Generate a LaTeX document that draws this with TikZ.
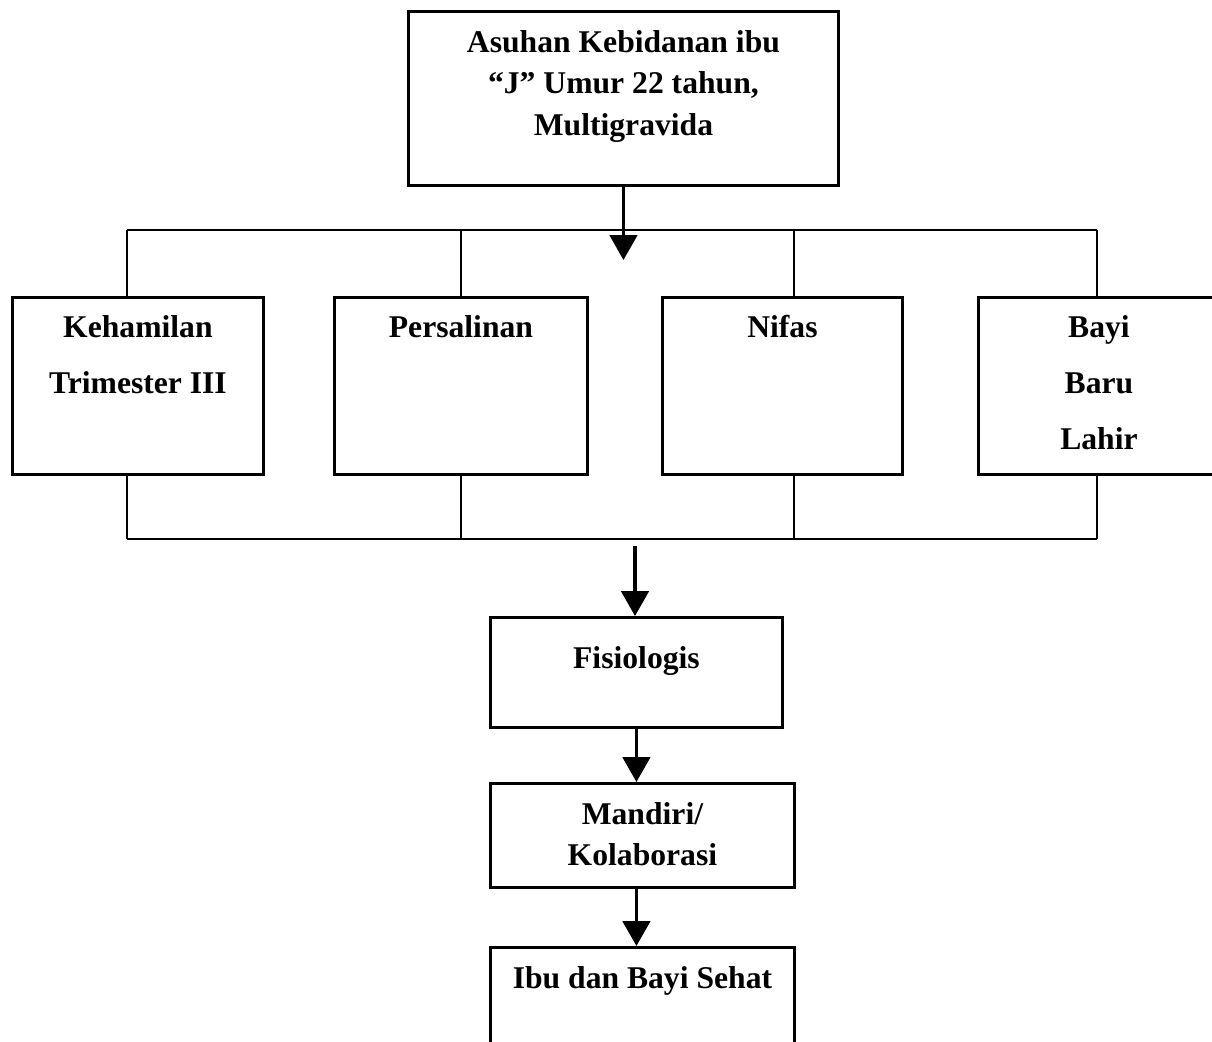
\documentclass[tikz,border=0pt]{standalone}
\usepackage{fontspec}
\setmainfont{Liberation Serif}
\usetikzlibrary{arrows.meta}

\begin{document}
\begin{tikzpicture}[
      x=0.025cm, y=-0.025cm,
      line width=2pt,
      box/.style={draw, anchor=north west, inner sep=0pt, align=flush center,
         font=\bfseries\fontsize{22.5}{40}\selectfont},
      tight/.style={font=\bfseries\fontsize{22.5}{29.5}\selectfont},
      flow/.style={line width=2.6pt, -{Triangle[length=0.62cm, width=0.68cm]}}
   ]
      \clip (0,0) rectangle (1212,1041);

      % Main box
      \node[box, tight, text width=10.75cm, text height=1.025cm, text depth=3.325cm] (asuhan) at (407,10)
         {Asuhan Kebidanan ibu\\“J” Umur 22 tahun,\\Multigravida};

      % Four stages
      \node[box, text width=6.275cm, text height=1.0cm, text depth=3.425cm] (hamil) at (11,296) {Kehamilan\\Trimester III};
      \node[box, text width=6.325cm, text height=1.0cm, text depth=3.425cm] (salin) at (333,296) {Persalinan};
      \node[box, text width=6.0cm, text height=1.0cm, text depth=3.425cm] (nifas) at (661,296) {Nifas};
      \node[box, text width=6.025cm, text height=1.0cm, text depth=3.425cm] (bayi) at (977,296) {Bayi\\Baru\\Lahir};

      % Outcome chain
      \node[box, text width=7.3cm, text height=1.275cm, text depth=1.475cm] (fisio) at (489,616) {Fisiologis};
      \node[box, tight, text width=7.6cm, text height=1.025cm, text depth=1.575cm] (mandiri) at (489,782) {Mandiri/\\Kolaborasi};
      \node[box, text width=7.6cm, text height=1.025cm, text depth=3cm] (sehat) at (489,946) {Ibu dan Bayi Sehat};

      % Bus lines
      \coordinate (top1) at (127,230);
      \coordinate (top2) at (461,230);
      \coordinate (top3) at (794,230);
      \coordinate (top4) at (1097,230);
      \coordinate (bot1) at (127,539);
      \coordinate (bot2) at (461,539);
      \coordinate (bot3) at (794,539);
      \coordinate (bot4) at (1097,539);
      \draw (top1) -- (top4);
      \draw (bot1) -- (bot4);
      \foreach \i/\n in {1/hamil, 2/salin, 3/nifas, 4/bayi} {
         \draw (top\i) -- (top\i |- \n.north);
         \draw (bot\i |- \n.south) -- (bot\i);
      }

      % Arrows
      \coordinate (split) at (622,260);
      \coordinate (merge) at (635,546);
      \draw[flow] (asuhan.south) -- (asuhan.south |- split);
      \draw[flow] (merge) -- (merge |- fisio.north);
      \draw[flow] (fisio.south) -- (fisio.south |- mandiri.north);
      \draw[flow] (fisio.south |- mandiri.south) -- (fisio.south |- sehat.north);
\end{tikzpicture}
\end{document}
